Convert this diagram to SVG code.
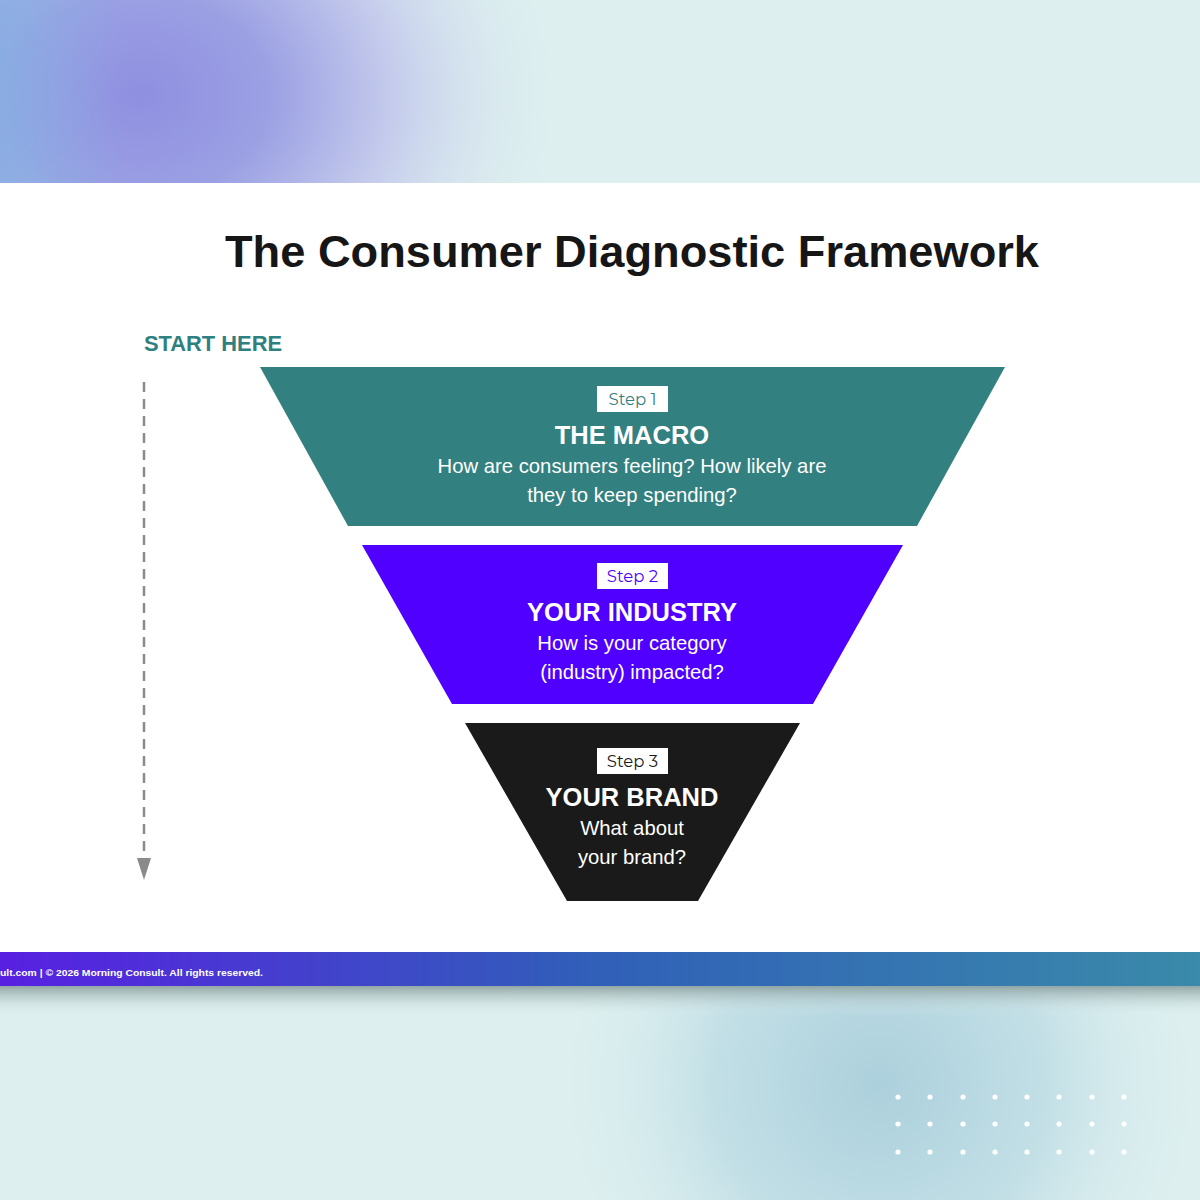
<svg xmlns="http://www.w3.org/2000/svg" width="1200" height="1200" viewBox="0 0 1200 1200">
<defs>
<radialGradient id="blobTop" cx="140" cy="95" r="430" gradientUnits="userSpaceOnUse" gradientTransform="translate(140 95) scale(1 0.8) translate(-140 -95)">
<stop offset="0" stop-color="#8f8fe0"/>
<stop offset="0.3" stop-color="#9ba0e3"/>
<stop offset="0.6" stop-color="#c6cdec"/>
<stop offset="1" stop-color="#ddefef" stop-opacity="0"/>
</radialGradient>
<linearGradient id="leftEdge" x1="0" y1="0" x2="1" y2="0">
<stop offset="0" stop-color="#85aee2" stop-opacity="0.8"/>
<stop offset="1" stop-color="#85aee2" stop-opacity="0"/>
</linearGradient>
<radialGradient id="blobBot" cx="880" cy="1085" r="330" gradientUnits="userSpaceOnUse">
<stop offset="0" stop-color="#acd0dc"/>
<stop offset="0.5" stop-color="#c2dfe6"/>
<stop offset="1" stop-color="#ddefef" stop-opacity="0"/>
</radialGradient>
<linearGradient id="bar" x1="0" y1="0" x2="1" y2="0">
<stop offset="0" stop-color="#5820e2"/>
<stop offset="0.5" stop-color="#3060b8"/>
<stop offset="1" stop-color="#3a8aaa"/>
</linearGradient>
<linearGradient id="shadow" x1="0" y1="0" x2="0" y2="1">
<stop offset="0" stop-color="#8a9e9e" stop-opacity="0.9"/>
<stop offset="1" stop-color="#ddefef" stop-opacity="0"/>
</linearGradient>
<marker id="arrow" markerWidth="24" markerHeight="16" refX="2" refY="7" orient="auto" markerUnits="userSpaceOnUse" viewBox="0 0 24 14">
<path d="M0,0 L22,7 L0,14 Z" fill="#8a8a8a"/>
</marker>
<style>
.step{fill:#ffffff}
.steptxt{font-family:"Montserrat","Liberation Sans",Arial,sans-serif;font-size:16.5px;text-anchor:middle}
.head{font-family:"Liberation Sans",Arial,sans-serif;font-weight:bold;font-size:25.5px;fill:#ffffff;text-anchor:middle}
.sub{font-family:"Liberation Sans",Arial,sans-serif;font-size:20.3px;fill:#ffffff;text-anchor:middle}
</style>
</defs>
<rect width="1200" height="1200" fill="#ddefef"/>
<rect x="0" y="0" width="1200" height="183" fill="url(#blobTop)"/>
<rect x="0" y="0" width="120" height="183" fill="url(#leftEdge)"/>
<rect x="0" y="986" width="1200" height="214" fill="url(#blobBot)"/>
<rect x="0" y="986" width="1200" height="30" fill="url(#shadow)"/>
<rect x="0" y="183" width="1200" height="769" fill="#ffffff"/>
<rect x="0" y="952" width="1200" height="34" fill="url(#bar)"/>
<text x="0" y="976" font-family="'Liberation Sans',Arial,sans-serif" font-weight="bold" font-size="9.5" fill="#ffffff" textLength="263" lengthAdjust="spacingAndGlyphs">ult.com | © 2026 Morning Consult. All rights reserved.</text>

<text x="632" y="267" font-family="'Liberation Sans',Arial,sans-serif" font-weight="bold" font-size="44" fill="#161616" text-anchor="middle" textLength="814" lengthAdjust="spacingAndGlyphs">The Consumer Diagnostic Framework</text>

<text x="144" y="351" font-family="'Liberation Sans',Arial,sans-serif" font-weight="bold" font-size="22" fill="#2f8080" textLength="138" lengthAdjust="spacingAndGlyphs">START HERE</text>

<g id="connectors">
<line x1="144" y1="382" x2="144" y2="860" stroke="#8a8a8a" stroke-width="2.5" stroke-dasharray="10,7" marker-end="url(#arrow)"/>
</g>

<g id="step1">
<polygon points="260,367 1005,367 917,526 348,526" fill="#338080"/>
<rect class="step" x="597" y="386" width="71" height="26"/>
<text class="steptxt" x="632.5" y="405" fill="#338080">Step 1</text>
<text class="head" x="632" y="444">THE MACRO</text>
<text class="sub" x="632" y="473">How are consumers feeling? How likely are</text>
<text class="sub" x="632" y="502">they to keep spending?</text>
</g>

<g id="step2">
<polygon points="362,545 903,545 813,704 452,704" fill="#5000ff"/>
<rect class="step" x="597" y="563" width="71" height="26"/>
<text class="steptxt" x="632.5" y="582" fill="#5000ff">Step 2</text>
<text class="head" x="632" y="621">YOUR INDUSTRY</text>
<text class="sub" x="632" y="650">How is your category</text>
<text class="sub" x="632" y="679">(industry) impacted?</text>
</g>

<g id="step3">
<polygon points="465,723 800,723 698,901 567,901" fill="#1a1a1a"/>
<rect class="step" x="597" y="748" width="71" height="26"/>
<text class="steptxt" x="632.5" y="767" fill="#1a1a1a">Step 3</text>
<text class="head" x="632" y="806">YOUR BRAND</text>
<text class="sub" x="632" y="835">What about</text>
<text class="sub" x="632" y="864">your brand?</text>
</g>

<g id="dots" fill="#ffffff">
<circle cx="898" cy="1097" r="2.6"/><circle cx="930" cy="1097" r="2.6"/><circle cx="963" cy="1097" r="2.6"/><circle cx="995" cy="1097" r="2.6"/><circle cx="1027" cy="1097" r="2.6"/><circle cx="1059" cy="1097" r="2.6"/><circle cx="1092" cy="1097" r="2.6"/><circle cx="1124" cy="1097" r="2.6"/>
<circle cx="898" cy="1124" r="2.6"/><circle cx="930" cy="1124" r="2.6"/><circle cx="963" cy="1124" r="2.6"/><circle cx="995" cy="1124" r="2.6"/><circle cx="1027" cy="1124" r="2.6"/><circle cx="1059" cy="1124" r="2.6"/><circle cx="1092" cy="1124" r="2.6"/><circle cx="1124" cy="1124" r="2.6"/>
<circle cx="898" cy="1152" r="2.6"/><circle cx="930" cy="1152" r="2.6"/><circle cx="963" cy="1152" r="2.6"/><circle cx="995" cy="1152" r="2.6"/><circle cx="1027" cy="1152" r="2.6"/><circle cx="1059" cy="1152" r="2.6"/><circle cx="1092" cy="1152" r="2.6"/><circle cx="1124" cy="1152" r="2.6"/>
</g>
</svg>
